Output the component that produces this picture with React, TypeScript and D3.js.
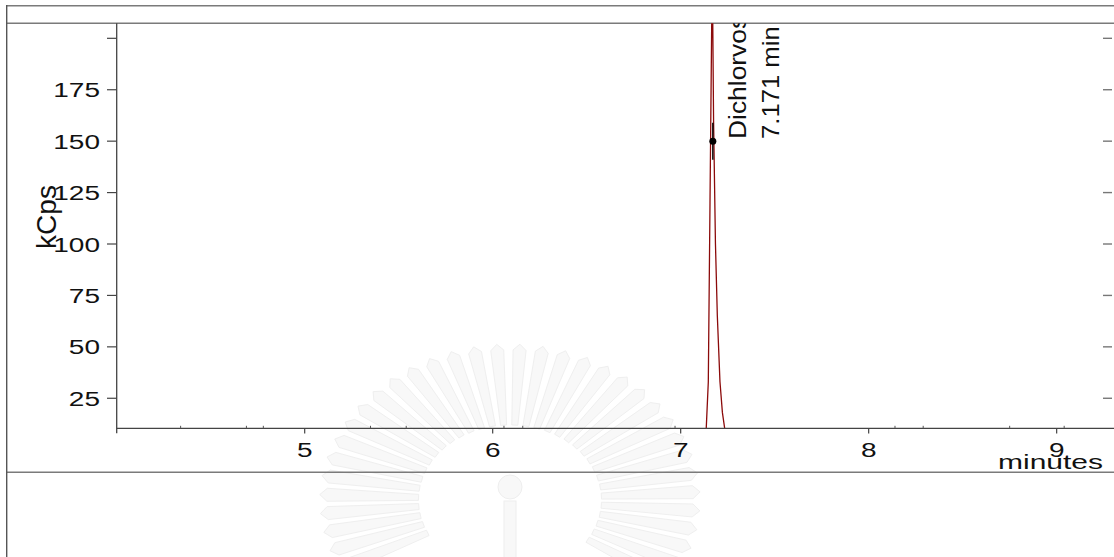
import React from "react";
import * as d3 from "d3";

// Retention-time window and ion-current axis
const xTickValues = [5, 6, 7, 8, 9];
const yTickValues = [25, 50, 75, 100, 125, 150, 175, 200];
const yTickLabels = ["25", "50", "75", "100", "125", "150", "175", ""];

// Small scan-event markers along the time axis (minutes)
const eventMarks = [4.34, 4.69, 4.78, 5.35, 5.54, 6.06, 6.16, 6.97, 8.14, 8.29, 8.75, 9.04];

// Chromatogram trace around the Dichlorvos peak (minutes, kCps)
const traceTimes = [4.0, 7.1, 7.12, 7.136, 7.147, 7.156, 7.165, 7.168, 7.17, 7.175, 7.185, 7.195, 7.209, 7.222, 7.234, 7.25, 7.3, 9.305];
const traceValues = [3, 3, 4, 10.4, 33, 120, 207, 240, 215, 160, 100, 65, 33, 18, 10.4, 6, 4, 3];

// Peak annotation
const peakName = "Dichlorvos";
const peakTime = 7.171;
const peakMarkValue = 150;

const W = 1114;
const H = 557;
const FONT = "'Liberation Sans', Arial, Helvetica, sans-serif";

export default function App() {
  const x = d3.scaleLinear().domain([4, 9.305]).range([116.7, 1114]);
  const y = d3.scaleLinear().domain([10.4, 207.3]).range([428.3, 23.3]);

  const line = d3
    .line<number>()
    .x((_, i) => x(traceTimes[i]))
    .y((_, i) => y(traceValues[i]));

  const plotLeft = x.range()[0];
  const plotRight = x.range()[1];
  const plotTop = y.range()[1];
  const plotBottom = y.range()[0];

  // Faint emblem in the background: a fan of feather-like rays round a post
  const cx = 510;
  const cy = 500;
  const rayAngles = d3.range(-32, 213, 7);
  const rays = rayAngles.map((deg) => {
    const a = (deg * Math.PI) / 180;
    const ux = Math.cos(a) * 1.22;
    const uy = -Math.sin(a);
    const nx = -Math.sin(a);
    const ny = -Math.cos(a);
    const rIn = 75;
    const rOut = 150;
    const wIn = 3;
    const wOut = 6.5;
    const p = [
      [cx + ux * rIn + nx * wIn, cy + uy * rIn + ny * wIn],
      [cx + ux * rOut + nx * wOut, cy + uy * rOut + ny * wOut],
      [cx + ux * (rOut + 6), cy + uy * (rOut + 6)],
      [cx + ux * rOut - nx * wOut, cy + uy * rOut - ny * wOut],
      [cx + ux * rIn - nx * wIn, cy + uy * rIn - ny * wIn],
    ];
    return "M" + p.map((q) => q.join(",")).join("L") + "Z";
  });

  const tickStretch = 1.4;

  return (
    <svg
      width={W}
      height={H}
      style={{ position: "fixed", left: 0, top: 0, background: "#fff" }}
      fontFamily={FONT}
    >
      <defs>
        <clipPath id="plotClip">
          <rect x={plotLeft} y={plotTop} width={plotRight - plotLeft} height={plotBottom - plotTop} />
        </clipPath>
      </defs>

      {/* background emblem */}
      <g>
        {rays.map((d, i) => (
          <path key={i} d={d} fill="#f8f8f8" stroke="#efefef" strokeWidth={1} />
        ))}
        <circle cx={cx} cy={cy - 13} r={12} fill="#f8f8f8" stroke="#eeeeee" />
        <rect x={cx - 6} y={cy + 1} width={12} height={70} fill="#f8f8f8" stroke="#eeeeee" />
      </g>

      {/* outer frame */}
      <line x1={6.7} y1={5.7} x2={W} y2={5.7} stroke="#7a7a7a" strokeWidth={1.6} />
      <line x1={6.7} y1={23.3} x2={W} y2={23.3} stroke="#7a7a7a" strokeWidth={1.6} />
      <line x1={6.7} y1={472.3} x2={W} y2={472.3} stroke="#7a7a7a" strokeWidth={1.6} />
      <line x1={6.7} y1={5} x2={6.7} y2={H} stroke="#555" strokeWidth={1.4} />

      {/* trace */}
      <path
        d={line(traceTimes) || ""}
        fill="none"
        stroke="#8b0a0a"
        strokeWidth={1.3}
        clipPath="url(#plotClip)"
      />

      {/* axes */}
      <line x1={plotLeft} y1={plotTop} x2={plotLeft} y2={433.3} stroke="#444" strokeWidth={1.3} />
      <line x1={plotLeft} y1={plotBottom} x2={plotRight} y2={plotBottom} stroke="#444" strokeWidth={1.3} />

      {yTickValues.map((v, i) => (
        <g key={v}>
          <line x1={107} x2={plotLeft} y1={y(v)} y2={y(v)} stroke="#444" strokeWidth={1.2} />
          <line x1={1103} x2={1112} y1={y(v)} y2={y(v)} stroke="#777" strokeWidth={1.4} />
          {yTickLabels[i] && (
            <text
              transform={`translate(100,${y(v) + 7.5}) scale(${tickStretch},1)`}
              textAnchor="end"
              fontSize={20}
              fill="#111"
            >
              {yTickLabels[i]}
            </text>
          )}
        </g>
      ))}

      {xTickValues.map((v) => (
        <g key={v}>
          <line x1={x(v)} x2={x(v)} y1={plotBottom} y2={433.5} stroke="#444" strokeWidth={1.2} />
          <text
            transform={`translate(${x(v)},456.5) scale(${tickStretch},1)`}
            textAnchor="middle"
            fontSize={20}
            fill="#111"
          >
            {v}
          </text>
        </g>
      ))}

      {eventMarks.map((t) => (
        <line key={t} x1={x(t)} x2={x(t)} y1={plotBottom} y2={plotBottom - 2.5} stroke="#555" strokeWidth={1} />
      ))}

      <text
        transform={`translate(1103,468.5) scale(1.5,1)`}
        textAnchor="end"
        fontSize={20}
        fill="#111"
      >
        minutes
      </text>

      <text
        transform={`translate(56,217) rotate(-90)`}
        textAnchor="middle"
        fontSize={28}
        fill="#111"
      >
        kCps
      </text>

      {/* peak annotation */}
      <line
        x1={x(peakTime)}
        x2={x(peakTime)}
        y1={y(peakMarkValue - 9)}
        y2={y(peakMarkValue + 9)}
        stroke="#000"
        strokeWidth={1.4}
      />
      <circle cx={x(peakTime)} cy={y(peakMarkValue)} r={3.5} fill="#000" />
      <g clipPath="url(#plotClip)">
        <text
          transform={`translate(746,139) rotate(-90) scale(1.1,1)`}
          fontSize={24}
          fill="#111"
        >
          {peakName}
        </text>
        <text
          transform={`translate(779,139) rotate(-90) scale(1.07,1)`}
          fontSize={24}
          fill="#111"
        >
          {`${peakTime.toFixed(3)} min`}
        </text>
      </g>
    </svg>
  );
}
